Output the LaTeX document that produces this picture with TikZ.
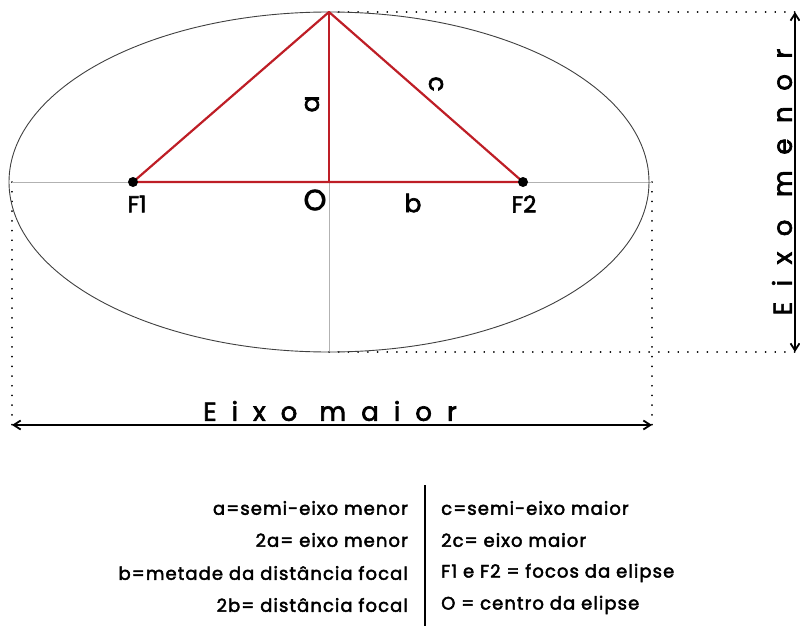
\documentclass[tikz,border=0pt]{standalone}
\usepackage{fontspec}
\setmainfont{Poppins}[FakeBold=2.5]
\usetikzlibrary{arrows.meta}
\definecolor{redline}{RGB}{190,30,38}
\begin{document}
\begin{tikzpicture}[x=1pt,y=-1pt,
  axisline/.style={draw=gray!60,line width=0.8pt},
  ellipseline/.style={draw=black!75,line width=0.9pt},
  redseg/.style={draw=redline,line width=2.2pt},
  dotline/.style={draw=black,line width=1.8pt,dash pattern=on 0.1pt off 9.6pt,line cap=round},
  dimarrow/.style={draw=black,line width=1.8pt,{Straight Barb[length=7pt,width=9pt]}-{Straight Barb[length=7pt,width=9pt]}},
  lbl/.style={font=\fontsize{23}{25}\selectfont,inner sep=0pt},
  legend/.style={font=\fontsize{18}{20}\selectfont\addfontfeatures{LetterSpace=6},inner sep=0pt}]
\useasboundingbox (0,0) rectangle (800,626);
% key points
\coordinate (O) at (329,182);
\coordinate (T) at (329,12);
\coordinate (B) at (329,352);
\coordinate (L) at (12,182);
\coordinate (R) at (652,182);
\coordinate (F1) at (133,182);
\coordinate (F2) at (523,182);
\coordinate (TR) at (795,12);
\coordinate (BR) at (795,352);
\coordinate (LL) at (12,425);
\coordinate (RL) at (652,425);
% dotted guides
\draw[dotline] (T) -- (TR);
\draw[dotline] (B) -- (BR);
\draw[dotline] (L) -- (LL);
\draw[dotline] (R) -- (RL);
% axes
\draw[axisline] (L) -- (R);
\draw[axisline] (T) -- (B);
% ellipse
\draw[ellipseline] (O) ellipse [x radius=320pt, y radius=170pt];
% red triangle
\draw[redseg,line join=round] (F1) -- (T) -- (F2) -- cycle;
\draw[redseg] (T) -- (O);
\fill (F1) circle (5pt);
\fill (F2) circle (5pt);
% labels
\node[lbl] (lF1) at (137,204) {F1};
\node[lbl] (lF2) at (524,204) {F2};
\node[lbl,font=\fontsize{29}{31}\selectfont] (lO) at (315,200) {O};
\node[lbl,font=\fontsize{25}{27}\selectfont] (lb) at (413,203) {b};
\node[lbl,font=\fontsize{25}{27}\selectfont,rotate=90] (la) at (312,104) {a};
\node[lbl,font=\fontsize{25}{27}\selectfont,rotate=-90] (lc) at (436,84) {c};
% dimension arrows
\draw[dimarrow] (LL) -- (RL);
\draw[dimarrow] (TR) -- (BR);
\node[lbl,font=\fontsize{26}{28}\selectfont\addfontfeatures{LetterSpace=58}] (emaior) at (330,411) {Eixo maior};
\node[lbl,font=\fontsize{26}{28}\selectfont\addfontfeatures{LetterSpace=60},rotate=90] (emenor) at (782,182) {Eixo menor};
% legend
\coordinate (sepT) at (425,485);
\coordinate (sepB) at (425,626);
\draw[black,line width=2.5pt] (sepT) -- (sepB);
\node[legend,anchor=east] (l1) at (408,508) {a=semi-eixo menor};
\node[legend,anchor=east] (l2) at (408,540) {2a= eixo menor};
\node[legend,anchor=east] (l3) at (408,573) {b=metade da distância focal};
\node[legend,anchor=east] (l4) at (408,605) {2b= distância focal};
\node[legend,anchor=west] (r1) at (441,508) {c=semi-eixo maior};
\node[legend,anchor=west] (r2) at (441,540) {2c= eixo maior};
\node[legend,anchor=west] (r3) at (441,573) {F1 e F2 = focos da elipse};
\node[legend,anchor=west] (r4) at (441,605) {O = centro da elipse};
\end{tikzpicture}
\end{document}
